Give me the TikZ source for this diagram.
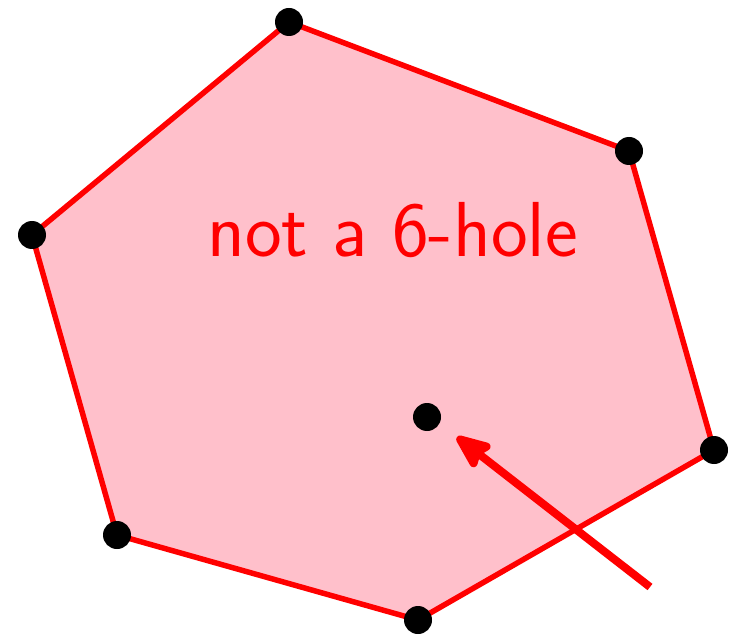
\documentclass[tikz,border=0pt]{standalone}
\usetikzlibrary{arrows.meta}
\definecolor{fillpink}{RGB}{255,192,203}
\begin{document}
\begin{tikzpicture}[x=1pt,y=-1pt,
  pt/.style={circle,fill=black,inner sep=0pt,minimum size=28pt},
  edge/.style={draw=red,line width=5.5pt},
  lbl/.style={text=red,font=\fontsize{78}{86}\selectfont\sffamily,anchor=base}]
\useasboundingbox (0,0) rectangle (733,636);
\coordinate (A) at (289,22);
\coordinate (B) at (629,151);
\coordinate (C) at (714,450);
\coordinate (D) at (418,620);
\coordinate (E) at (117,535);
\coordinate (F) at (32,235);
\coordinate (S) at (650,587);
\coordinate (T) at (457,437);
\filldraw[fill=fillpink,edge,line join=round] (A) -- (B) -- (C) -- (D) -- (E) -- (F) -- cycle;
\node[lbl] (txt) at (392.5,257) {not a 6-hole};
\draw[red,line width=8pt,-{Stealth[length=42pt,width=34pt,inset=6pt,line join=round,line cap=round,fill=red]}] (S) -- (T);
\foreach \v in {A,B,C,D,E,F} \node[pt] (n\v) at (\v) {};
\node[pt] (P) at (427,417) {};
\end{tikzpicture}
\end{document}
